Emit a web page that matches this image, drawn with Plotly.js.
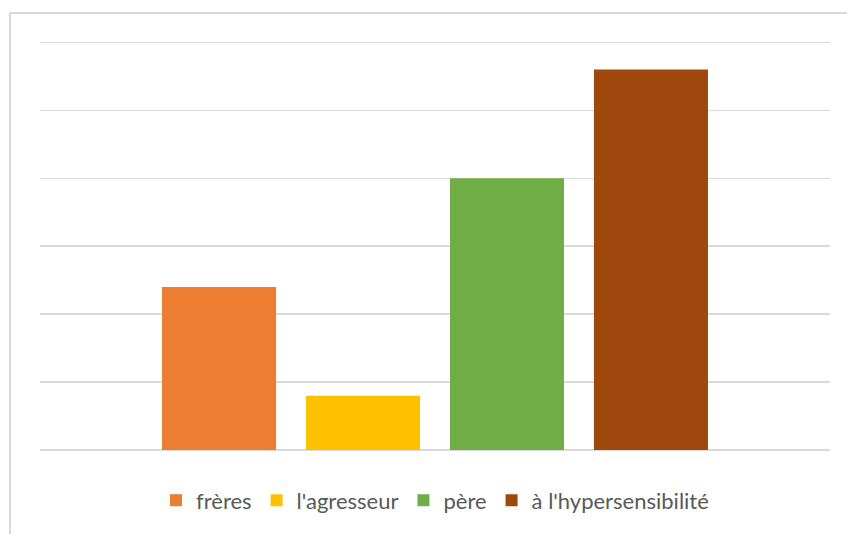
<!DOCTYPE html>
<html>
<head>
<meta charset="utf-8">
<script src="https://cdn.plot.ly/plotly-3.0.1.min.js"></script>
<style>
html,body{margin:0;padding:0;width:847px;height:534px;overflow:hidden;background:#fff;}
#frame{position:absolute;left:9px;top:12px;width:900px;height:600px;border:2px solid #d9d9d9;box-sizing:border-box;pointer-events:none;}
#chart{position:absolute;left:0;top:0;width:847px;height:534px;}
</style>
</head>
<body>
<div id="chart"></div>
<div id="frame"></div>
<script>
const categories = ["frères", "l'agresseur", "père", "à l'hypersensibilité"];
const values = [2.4, 0.8, 4.0, 5.6];
const colors = ["#ED7D31", "#FFC000", "#70AD47", "#9E480E"];
const groupLabel = [""];

const traces = categories.map((name, i) => ({
  type: "bar",
  name: name,
  x: groupLabel,
  y: [values[i]],
  marker: {color: colors[i]},
  hoverinfo: "name+y"
}));

const layout = {
  width: 847,
  height: 534,
  margin: {l: 40, r: 17, t: 38.6, b: 84},
  paper_bgcolor: "#ffffff",
  plot_bgcolor: "#ffffff",
  barmode: "group",
  bargap: 0.271,
  bargroupgap: 0.208,
  showlegend: true,
  legend: {
    orientation: "h",
    x: 0.5, xanchor: "center",
    y: -0.123, yanchor: "middle",
    font: {family: "Lato, 'Open Sans', sans-serif", size: 22, color: "#595959"},
    itemwidth: 30,
    traceorder: "normal"
  },
  xaxis: {
    showticklabels: false,
    showgrid: false,
    zeroline: false,
    showline: false,
    ticks: ""
  },
  yaxis: {
    range: [0, 6.05],
    dtick: 1,
    tick0: 0,
    showticklabels: false,
    showgrid: true,
    gridcolor: "#d9d9d9",
    gridwidth: 1.5,
    zeroline: true,
    zerolinecolor: "#d9d9d9",
    zerolinewidth: 1.5,
    showline: false,
    ticks: ""
  }
};

Plotly.newPlot("chart", traces, layout, {displayModeBar: false, staticPlot: true});
</script>
</body>
</html>
